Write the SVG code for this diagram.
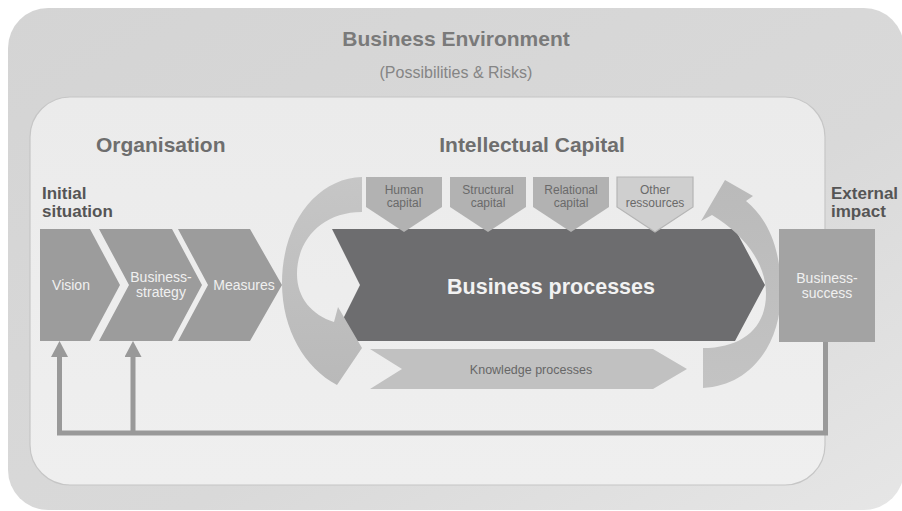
<svg xmlns="http://www.w3.org/2000/svg" width="902" height="511" viewBox="0 0 902 511">
<defs>
<linearGradient id="gOuter" x1="0" y1="0" x2="1" y2="1">
<stop offset="0" stop-color="#d4d4d4"/>
<stop offset="0.6" stop-color="#d9d9d9"/>
<stop offset="1" stop-color="#e6e6e6"/>
</linearGradient>
<linearGradient id="gInner" x1="0" y1="0" x2="0" y2="1">
<stop offset="0" stop-color="#ebebeb"/>
<stop offset="1" stop-color="#efefef"/>
</linearGradient>
<linearGradient id="gArcL" x1="0" y1="0" x2="0" y2="1">
<stop offset="0" stop-color="#c6c6c6"/>
<stop offset="1" stop-color="#b9b9b9"/>
</linearGradient>
<linearGradient id="gArcR" x1="0" y1="1" x2="0" y2="0">
<stop offset="0" stop-color="#c3c3c3"/>
<stop offset="1" stop-color="#bababa"/>
</linearGradient>
<marker id="head" viewBox="0 0 16 17" markerWidth="16" markerHeight="17" refX="0" refY="8.5" orient="auto" markerUnits="userSpaceOnUse">
<path d="M0,0 L16,8.5 L0,17 Z" fill="#999999"/>
</marker>
</defs>
<style>
text{font-family:"Liberation Sans",Arial,sans-serif}
.h1{font-size:21px;font-weight:bold;fill:#7a7a7a}
.h2{font-size:21px;font-weight:bold;fill:#6e6e6e}
.h3{font-size:17px;font-weight:bold;fill:#555555}
.sub{font-size:16px;fill:#858585}
.chev{fill:#9c9c9c}
.ct{font-size:14px;fill:#f0f0f0}
.cap{fill:#b2b2b2}
.capt{font-size:12px;fill:#6a6a6a}
.arc{stroke:none}
.fb{fill:none;stroke:#999999;stroke-width:5}
</style>

<g id="environment">
<rect x="8" y="8" width="896" height="502" rx="40" fill="url(#gOuter)"/>
<text class="h1" x="456" y="46" text-anchor="middle">Business Environment</text>
<text class="sub" x="456" y="78" text-anchor="middle">(Possibilities &amp; Risks)</text>
</g>

<g id="organisation-box">
<rect x="30" y="97" width="795" height="388" rx="40" fill="url(#gInner)" stroke="#c6c6c6" stroke-width="1.2"/>
<text class="h2" x="96" y="152">Organisation</text>
<text class="h2" x="532" y="152" text-anchor="middle">Intellectual Capital</text>
<text class="h3" x="42" y="199">Initial</text>
<text class="h3" x="42" y="217">situation</text>
<text class="h3" x="831" y="199">External</text>
<text class="h3" x="831" y="217">impact</text>
</g>

<g id="vision">
<polygon class="chev" points="40,229 90,229 120,285 90,341 40,341"/>
<text class="ct" x="71" y="290" text-anchor="middle">Vision</text>
</g>
<g id="business-strategy">
<polygon class="chev" points="99,229 172,229 202,285 172,341 99,341 129,285"/>
<text class="ct" x="161" y="282" text-anchor="middle">Business-</text>
<text class="ct" x="161" y="297" text-anchor="middle">strategy</text>
</g>
<g id="measures">
<polygon class="chev" points="178,229 250,229 282,285 250,341 178,341 208,285"/>
<text class="ct" x="244" y="290" text-anchor="middle">Measures</text>
</g>

<g id="business-processes">
<polygon points="332,229 735,229 765,285 735,341 332,341 360,285" fill="#6d6d6f"/>
<text x="551" y="294" text-anchor="middle" font-size="21.5" font-weight="bold" fill="#f2f2f2">Business processes</text>
</g>

<g id="human-capital">
<polygon class="cap" points="366,177 442,177 442,207 404,232 366,207"/>
<text class="capt" x="404" y="194" text-anchor="middle">Human</text>
<text class="capt" x="404" y="207" text-anchor="middle">capital</text>
</g>
<g id="structural-capital">
<polygon class="cap" points="450,177 526,177 526,207 488,232 450,207"/>
<text class="capt" x="488" y="194" text-anchor="middle">Structural</text>
<text class="capt" x="488" y="207" text-anchor="middle">capital</text>
</g>
<g id="relational-capital">
<polygon class="cap" points="533,177 609,177 609,207 571,232 533,207"/>
<text class="capt" x="571" y="194" text-anchor="middle">Relational</text>
<text class="capt" x="571" y="207" text-anchor="middle">capital</text>
</g>
<g id="other-ressources">
<polygon points="617,177 693,177 693,207 655,232 617,207" fill="#cfcfcf" stroke="#b5b5b5" stroke-width="1.2"/>
<text class="capt" x="655" y="194" text-anchor="middle">Other</text>
<text class="capt" x="655" y="207" text-anchor="middle">ressources</text>
</g>

<g id="knowledge-processes">
<polygon points="370,349 653,349 687,369 653,389 370,389 402,369" fill="#c1c1c1"/>
<text x="531" y="374" text-anchor="middle" font-size="12.5" fill="#676767">Knowledge processes</text>
</g>

<g id="cycle-left">
<path class="arc" fill="url(#gArcL)" d="M362,177 C318,178 282,222 282,283 C282,330 305,368 337,385 L362,348 L338,307 L334,322 C312,315 297,298 297,274 C297,240 322,212 362,212 Z"/>
</g>
<g id="cycle-right">
<path class="arc" fill="url(#gArcR)" d="M703,388 C750,386 781,345 781,292 C781,250 769,220 746,201 L753,196 L725,180 L701,221 L712,215 C743,234 766,262 766,294 C766,328 742,348 703,348 Z"/>
</g>

<g id="business-success">
<rect x="779" y="229" width="96" height="113" fill="#a3a3a3"/>
<text class="ct" x="827" y="283" text-anchor="middle">Business-</text>
<text class="ct" x="827" y="298" text-anchor="middle">success</text>
</g>

<g id="connectors">
<path class="fb" d="M825.5,342 V433 H59.5 V357" marker-end="url(#head)"/>
<path class="fb" d="M133,433 V357" marker-end="url(#head)"/>
</g>
</svg>
